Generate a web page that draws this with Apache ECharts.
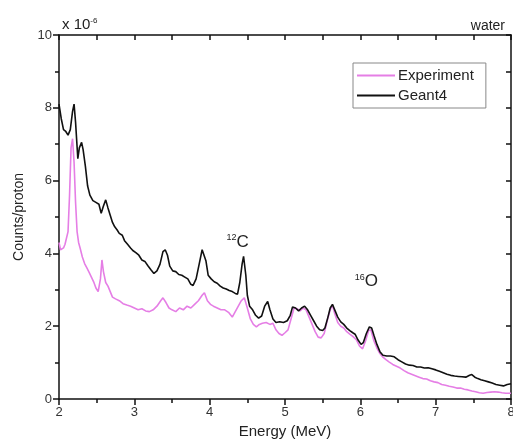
<!DOCTYPE html>
<html>
<head>
<meta charset="utf-8">
<script src="https://cdn.jsdelivr.net/npm/echarts@6/dist/echarts.min.js"></script>
<style>
  html, body { margin: 0; padding: 0; background: #fff; }
  #chart { width: 513px; height: 444px; }
</style>
</head>
<body>
<div id="chart"></div>
<script>
// Geant4 simulation (energy in MeV, counts/proton x 1e-6)
const geantEnergy = [2.00,2.03,2.06,2.09,2.12,2.15,2.18,2.20,2.22,2.25,2.27,2.30,2.32,2.35,2.38,2.41,2.45,2.49,2.53,2.56,2.59,2.62,2.65,2.68,2.71,2.74,2.77,2.80,2.84,2.87,2.91,2.95,2.98,3.02,3.06,3.10,3.14,3.18,3.22,3.26,3.30,3.34,3.38,3.41,3.44,3.47,3.51,3.55,3.59,3.63,3.67,3.71,3.75,3.78,3.82,3.86,3.90,3.92,3.95,3.98,4.02,4.06,4.10,4.14,4.18,4.22,4.26,4.30,4.34,4.37,4.40,4.43,4.45,4.48,4.50,4.53,4.57,4.61,4.65,4.69,4.73,4.77,4.80,4.84,4.88,4.93,4.98,5.03,5.07,5.10,5.14,5.18,5.22,5.26,5.30,5.34,5.38,5.42,5.46,5.50,5.53,5.57,5.60,5.63,5.66,5.70,5.74,5.78,5.82,5.86,5.90,5.93,5.97,6.01,6.04,6.08,6.12,6.15,6.18,6.22,6.26,6.30,6.35,6.40,6.45,6.50,6.55,6.60,6.65,6.70,6.75,6.80,6.85,6.90,6.95,7.00,7.05,7.10,7.15,7.20,7.25,7.30,7.35,7.40,7.45,7.48,7.52,7.56,7.60,7.65,7.70,7.75,7.80,7.85,7.90,7.95,8.00];
const geantCounts = [8.1,7.7,7.4,7.35,7.25,7.4,7.9,8.1,7.6,6.6,6.9,7.05,6.85,6.4,5.85,5.6,5.45,5.4,5.35,5.1,5.3,5.47,5.25,5.05,4.85,4.73,4.65,4.55,4.5,4.35,4.25,4.15,4.08,4.02,3.95,3.82,3.78,3.66,3.55,3.45,3.52,3.7,4.05,4.1,3.95,3.65,3.52,3.5,3.42,3.4,3.35,3.3,3.15,3.12,3.3,3.7,4.1,4.15,3.8,3.4,3.3,3.22,3.18,3.1,3.05,3.02,2.98,2.95,2.9,2.88,3.2,3.7,3.92,3.4,2.85,2.55,2.45,2.3,2.22,2.28,2.55,2.68,2.45,2.2,2.1,2.12,2.1,2.15,2.3,2.53,2.5,2.42,2.5,2.55,2.45,2.3,2.15,2.0,1.9,1.88,1.95,2.25,2.5,2.6,2.45,2.25,2.12,2.05,1.95,1.88,1.82,1.78,1.62,1.5,1.55,1.8,1.98,1.95,1.75,1.5,1.3,1.2,1.18,1.18,1.16,1.08,1.02,0.96,0.93,0.92,0.88,0.88,0.85,0.86,0.83,0.8,0.76,0.72,0.68,0.65,0.63,0.62,0.61,0.6,0.65,0.67,0.6,0.56,0.53,0.5,0.47,0.44,0.4,0.38,0.36,0.4,0.42];

// Experiment
const expEnergy = [2.00,2.02,2.04,2.06,2.08,2.10,2.12,2.14,2.16,2.18,2.20,2.22,2.24,2.26,2.28,2.31,2.34,2.37,2.40,2.43,2.46,2.49,2.52,2.55,2.57,2.59,2.62,2.65,2.68,2.71,2.75,2.80,2.85,2.90,2.95,3.00,3.05,3.10,3.15,3.20,3.25,3.30,3.35,3.38,3.42,3.46,3.50,3.55,3.60,3.65,3.70,3.75,3.80,3.85,3.90,3.93,3.97,4.01,4.05,4.10,4.15,4.20,4.25,4.30,4.34,4.38,4.42,4.46,4.50,4.54,4.58,4.62,4.66,4.70,4.75,4.80,4.84,4.88,4.92,4.96,5.00,5.04,5.08,5.12,5.16,5.20,5.24,5.28,5.32,5.36,5.40,5.44,5.48,5.52,5.56,5.60,5.63,5.66,5.70,5.74,5.78,5.82,5.86,5.90,5.95,5.99,6.03,6.07,6.11,6.14,6.18,6.22,6.26,6.30,6.34,6.38,6.43,6.48,6.53,6.58,6.63,6.68,6.73,6.78,6.83,6.88,6.93,6.98,7.03,7.08,7.13,7.18,7.23,7.28,7.33,7.38,7.43,7.48,7.53,7.58,7.63,7.68,7.73,7.78,7.83,7.88,7.93,8.00];
const expCounts = [4.3,4.1,4.05,4.15,4.25,4.2,4.6,5.6,6.9,7.15,6.5,5.4,4.6,4.3,4.15,3.9,3.72,3.6,3.48,3.35,3.22,3.05,2.95,3.3,3.82,3.5,3.2,3.1,2.95,2.8,2.75,2.7,2.62,2.58,2.55,2.5,2.45,2.48,2.42,2.4,2.45,2.55,2.7,2.78,2.65,2.5,2.45,2.4,2.5,2.45,2.55,2.5,2.6,2.7,2.85,2.92,2.7,2.6,2.55,2.5,2.45,2.45,2.38,2.25,2.4,2.55,2.7,2.78,2.5,2.2,2.05,1.98,2.05,2.08,2.1,2.05,2.08,1.9,1.8,1.75,1.82,1.9,2.2,2.5,2.48,2.42,2.5,2.45,2.25,2.05,1.85,1.7,1.68,1.8,2.15,2.45,2.58,2.35,2.1,2.0,1.95,1.85,1.78,1.72,1.62,1.45,1.38,1.6,1.88,1.9,1.6,1.4,1.25,1.15,1.08,1.02,0.95,0.9,0.85,0.78,0.72,0.68,0.64,0.6,0.56,0.55,0.5,0.47,0.45,0.4,0.38,0.35,0.33,0.3,0.3,0.27,0.25,0.22,0.2,0.17,0.16,0.18,0.19,0.2,0.19,0.17,0.16,0.16];

const xTicks = [2, 8, 1];   // min, max, interval
const yTicks = [0, 10, 2];

const pair = (xs, ys) => xs.map((x, i) => [x, ys[i]]);

const chart = echarts.init(document.getElementById('chart'));
const font = 'Liberation Sans, Arial, sans-serif';

const option = {
    animation: false,
    textStyle: { fontFamily: font },
    grid: { left: 59, right: 2, top: 35, bottom: 45, outerBoundsMode: 'none' },
    title: [
        {
            text: 'water',
            right: 3, top: 14,
            textStyle: { fontSize: 14, fontWeight: 'normal', color: '#222', fontFamily: font }
        },
        {
            text: 'x 10{s|-6}',
            left: 57, top: 12,
            textStyle: {
                fontSize: 15, fontWeight: 'normal', color: '#222', fontFamily: font,
                rich: { s: { fontSize: 8, verticalAlign: 'top', padding: [0, 0, 8, 0], color: '#222' } }
            }
        }
    ],
    legend: {
        orient: 'vertical',
        left: 353, top: 63,
        padding: [5, 12, 5, 4],
        itemGap: 5,
        itemWidth: 38,
        itemHeight: 2,
        icon: 'rect',
        borderColor: '#888',
        borderWidth: 1,
        textStyle: { fontSize: 15, color: '#222', fontFamily: font, padding: [0, 0, 0, -2] },
        data: ['Experiment', 'Geant4']
    },
    xAxis: [
        {
            type: 'value', min: xTicks[0], max: xTicks[1], interval: xTicks[2],
            name: 'Energy (MeV)', nameLocation: 'middle', nameGap: 24,
            nameTextStyle: { fontSize: 15, color: '#222' },
            axisLine: { lineStyle: { color: '#111', width: 1.5 } },
            axisTick: { inside: false, length: 6, lineStyle: { color: '#111', width: 1.5 } },
            minorTick: { show: true, splitNumber: 2, length: 4, lineStyle: { color: '#111', width: 1.5 } },
            axisLabel: { fontSize: 13, color: '#333', margin: 7 },
            splitLine: { show: false }
        },
        {
            type: 'value', position: 'top', min: xTicks[0], max: xTicks[1], interval: 0.5,
            axisLine: { onZero: false, lineStyle: { color: '#111', width: 1.5 } },
            axisTick: { inside: true, length: 5, lineStyle: { color: '#111', width: 1.5 } },
            axisLabel: { show: false },
            splitLine: { show: false }
        }
    ],
    yAxis: [
        {
            type: 'value', min: yTicks[0], max: yTicks[1], interval: yTicks[2],
            name: 'Counts/proton', nameLocation: 'middle', nameGap: 27,
            nameTextStyle: { fontSize: 14, color: '#222' },
            axisLine: { show: true, lineStyle: { color: '#111', width: 1.5 } },
            axisTick: { show: true, inside: false, length: 6, lineStyle: { color: '#111', width: 1.5 } },
            minorTick: { show: true, splitNumber: 2, length: 4, lineStyle: { color: '#111', width: 1.5 } },
            axisLabel: { fontSize: 13, color: '#333', margin: 7 },
            splitLine: { show: false }
        },
        {
            type: 'value', position: 'right', min: yTicks[0], max: yTicks[1], interval: 1,
            axisLine: { show: true, onZero: false, lineStyle: { color: '#111', width: 1.5 } },
            axisTick: { show: true, inside: true, length: 5, lineStyle: { color: '#111', width: 1.5 } },
            axisLabel: { show: false },
            splitLine: { show: false }
        }
    ],
    series: [
        {
            name: 'Experiment',
            type: 'line',
            data: pair(expEnergy, expCounts),
            symbol: 'none',
            color: '#e57ee5',
            lineStyle: { color: '#e57ee5', width: 1.6 },
            z: 2
        },
        {
            name: 'Geant4',
            type: 'line',
            data: pair(geantEnergy, geantCounts),
            symbol: 'none',
            color: '#111',
            lineStyle: { color: '#111', width: 1.6 },
            z: 3,
            markPoint: {
                symbol: 'circle',
                symbolSize: 0,
                label: {
                    show: true,
                    position: 'inside',
                    color: '#222',
                    fontFamily: font,
                    rich: {
                        s: { fontSize: 9, verticalAlign: 'top', padding: [0, 0, 9, 0], color: '#222' },
                        b: { fontSize: 17, color: '#222' }
                    }
                },
                data: [
                    { coord: [4.37, 4.3], label: { formatter: '{s|12}{b|C}' } },
                    { coord: [6.08, 3.22], label: { formatter: '{s|16}{b|O}' } }
                ]
            }
        }
    ]
};

chart.setOption(option);
</script>
</body>
</html>
